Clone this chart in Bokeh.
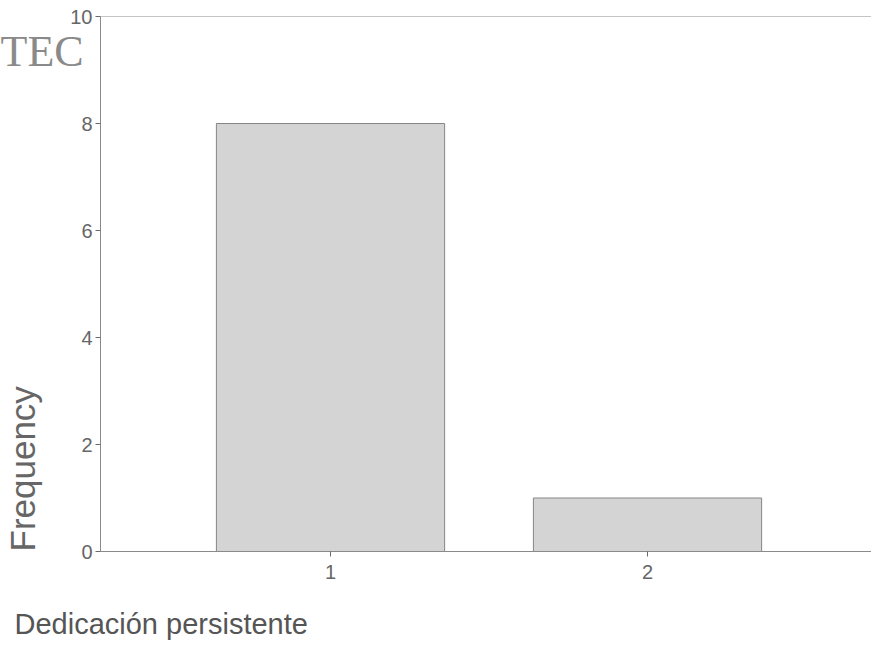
from bokeh.plotting import figure
from bokeh.models import Range1d, FixedTicker, Span, Title
from bokeh.embed import file_html
from bokeh.resources import INLINE

categories = [1, 2]
frequencies = [8, 1]
y_ticks = [0, 2, 4, 6, 8, 10]
x_title = "Dedicación persistente"
y_title = "Frequency"
logo_text = "TEC"

p = figure(width=871, height=664, output_backend="svg", toolbar_location=None,
           x_range=Range1d(0.2744, 2.7066), y_range=Range1d(0, 10),
           min_border_left=100, min_border_top=16, min_border_bottom=113, min_border_right=0)

p.vbar(x=categories, top=frequencies, bottom=0, width=0.72,
       fill_color="#d4d4d4", line_color="#858585", line_width=1)

p.xgrid.visible = False
p.ygrid.visible = False
p.outline_line_color = None
p.background_fill_color = "white"
p.border_fill_color = "white"

xa = p.xaxis[0]
ya = p.yaxis[0]
for ax in (xa, ya):
    ax.axis_line_color = "#8a8a8a"
    ax.major_tick_line_color = "#6a6a6a"
    ax.minor_tick_line_color = None
    ax.major_tick_in = 0
    ax.major_tick_out = 5
    ax.major_label_text_font = "Liberation Sans"
    ax.major_label_text_font_size = "20px"
    ax.major_label_text_color = "#666666"

xa.ticker = FixedTicker(ticks=categories)
ya.ticker = FixedTicker(ticks=y_ticks)
xa.major_label_standoff = 8
ya.major_label_standoff = 3
# invisible spacer label to push the y title outward
ya.axis_label = "\u00a0"
ya.axis_label_text_font_size = "13px"
ya.axis_label_standoff = 4

p.add_layout(Span(location=y_ticks[-1], dimension="width", line_color="#8a8a8a", line_width=1))

p.add_layout(Title(text=x_title, align="left", offset=-86, standoff=49,
                   text_font="Liberation Sans", text_font_size="29px",
                   text_font_style="normal", text_color="#555555"), "below")
p.add_layout(Title(text=y_title, align="left", offset=0, standoff=4,
                   vertical_align="top",
                   text_font="Liberation Sans", text_font_size="35px",
                   text_font_style="normal", text_color="#666666"), "left")
p.add_layout(Title(text=logo_text, align="left", offset=-100, standoff=-118,
                   text_font="Liberation Serif", text_font_size="44px",
                   text_font_style="normal", text_color="#8a8a8a"), "above")

open("out.html", "w").write(file_html(p, INLINE))
